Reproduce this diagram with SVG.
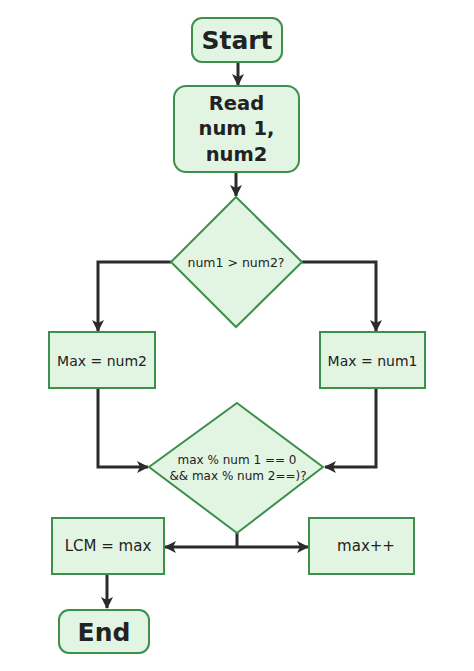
<svg xmlns="http://www.w3.org/2000/svg" width="474" height="671" viewBox="0 0 474 671">
<defs>
<style>
.n{fill:#e2f5e2;stroke:#3d8f4c;stroke-width:2}
.t{font-family:"DejaVu Sans","Noto Sans",sans-serif;fill:#222;text-anchor:middle;dominant-baseline:central}
.big{font-size:25px;font-weight:bold}
.mid{font-size:19.5px;font-weight:bold}
.sm{font-size:14px}
.lg{font-size:15px}
.xs{font-size:12.5px}
.xxs{font-size:12px}
.c{fill:none;stroke:#2b2b2b;stroke-width:3}
</style>
<marker id="a" viewBox="0 0 12 12" refX="11" refY="6" markerWidth="12" markerHeight="12" markerUnits="userSpaceOnUse" orient="auto">
<path d="M0,0 L12,6 L0,12 L3,6 Z" fill="#2b2b2b"/>
</marker>
</defs>
<rect width="474" height="671" fill="#fff"/>
<g id="connectors">
<path class="c" d="M238,62 V85" marker-end="url(#a)"/>
<path class="c" d="M236,172 V196" marker-end="url(#a)"/>
<path class="c" d="M171,262 H98 V331" marker-end="url(#a)"/>
<path class="c" d="M302,262 H376 V331" marker-end="url(#a)"/>
<path class="c" d="M98,388 V467 H148" marker-end="url(#a)"/>
<path class="c" d="M376,388 V467 H325" marker-end="url(#a)"/>
<path class="c" d="M237,533 V547"/>
<path class="c" d="M237,547 H165" marker-end="url(#a)"/>
<path class="c" d="M237,547 H308" marker-end="url(#a)"/>
<path class="c" d="M107,574 V608" marker-end="url(#a)"/>
</g>
<g id="start">
<rect class="n" x="192" y="18" width="90" height="44" rx="10"/>
<text class="t big" x="237" y="40">Start</text>
</g>
<g id="read">
<rect class="n" x="174" y="86" width="125" height="86" rx="12"/>
<text class="t mid" x="236.5" y="103">Read</text>
<text class="t mid" x="236.5" y="128">num 1,</text>
<text class="t mid" x="236.5" y="154">num2</text>
</g>
<g id="cond1">
<polygon class="n" points="236,197 302,262 236,327 171,262"/>
<text class="t xs" x="236" y="262">num1 &gt; num2?</text>
</g>
<g id="maxnum2">
<rect class="n" x="49" y="332" width="106" height="56"/>
<text class="t sm" x="102" y="361">Max = num2</text>
</g>
<g id="maxnum1">
<rect class="n" x="320" y="332" width="105" height="56"/>
<text class="t sm" x="372.5" y="361">Max = num1</text>
</g>
<g id="cond2">
<polygon class="n" points="237,403 323,467 237,533 149,467"/>
<text class="t xxs" x="237" y="460">max % num 1 == 0</text>
<text class="t xxs" x="238" y="476">&amp;&amp; max % num 2==)?</text>
</g>
<g id="lcm">
<rect class="n" x="52" y="518" width="112" height="56"/>
<text class="t lg" x="108" y="546">LCM = max</text>
</g>
<g id="inc">
<rect class="n" x="309" y="518" width="105" height="56"/>
<text class="t lg" x="366" y="546">max++</text>
</g>
<g id="end">
<rect class="n" x="59" y="610" width="90" height="43" rx="10"/>
<text class="t big" x="104" y="632">End</text>
</g>
</svg>
